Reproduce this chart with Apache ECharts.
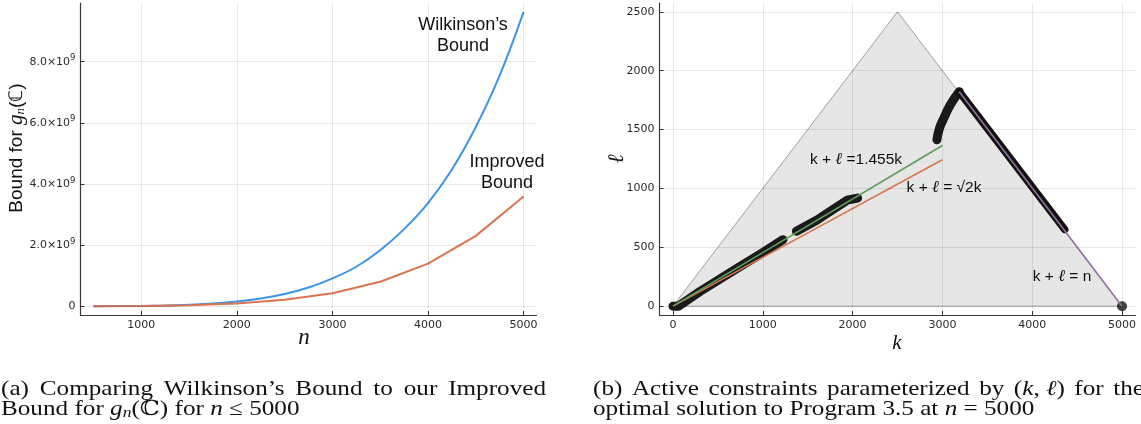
<!DOCTYPE html>
<html><head><meta charset="utf-8">
<script src="https://cdn.jsdelivr.net/npm/echarts@6/dist/echarts.min.js"></script>
<style>html,body{margin:0;padding:0;background:#fff}#c{width:1141px;height:424px}</style>
</head><body><div id="c"></div><script>
// ---------------- data ----------------
// (a) bounds, values in units of 10^9
const nWilk = [500,750,1000,1250,1500,1750,2000,2250,2500,2750,3000,3250,3500,3750,4000,4250,4500,4750,5000];
const wilkinson = [0.0006,0.003,0.009,0.021,0.045,0.085,0.15,0.25,0.40,0.61,0.91,1.29,1.83,2.52,3.37,4.47,5.86,7.55,9.63];
const nImp = [500,1000,1500,2000,2500,3000,3500,4000,4500,5000];
const improved = [0.001,0.006,0.03,0.09,0.21,0.42,0.80,1.39,2.30,3.59];
const xTicksA = [1000,2000,3000,4000,5000];
const yTicksA = [0,2,4,6,8];
// (b) active constraints in (k, l)
const feasibleRegion = [[0,0],[2500,2500],[5000,0],[0,0]];
const activeSeg1 = [[0,0],[60,0],[300,125],[700,315],[1000,455],[1225,565]];
const activeSeg2 = [[1374,636],[1600,730],[1807,834],[1940,900],[2056,918]];
const activeSeg3 = [[2939,1413],[2965,1505],[3012,1590],[3087,1709],[3187,1822]];
const activeSeg4 = [[3187,1822],[4362,652]];
const activePoint = [[5000,0]];
const line1455 = [[0,0],[3000,1365]];
const lineSqrt2 = [[0,0],[3000,1243]];
const lineN = [[3187,1822],[5000,0]];
const xTicksB = [0,1000,2000,3000,4000,5000];
const yTicksB = [0,500,1000,1500,2000,2500];
// captions
const capA1 = ['(a)','Comparing','Wilkinson’s','Bound','to','our','Improved'];
const capA2 = ['Bound','for',[['g','i'],['n','s'],['(ℂ)','r']],'for',[['n','i']],'≤','5000'];
const capB1 = ['(b)','Active','constraints','parameterized','by',[['(','r'],['k','i'],[', ','r'],['ℓ','i'],[')','r']],'for','the'];
const capB2 = ['optimal','solution','to','Program','3.5','at',[['n','i']],'=','5000'];

// ---------------- helpers ----------------
const zip = (a,b) => a.map((v,i)=>[v,b[i]]);
const SERIF = '"Liberation Serif", "DejaVu Serif", serif';
const SANS = '"Liberation Sans", Arial, sans-serif';
const ctx = document.createElement('canvas').getContext('2d');
function fontOf(kind, fs){
  if (kind==='i') return `italic ${fs}px ${SERIF}`;
  if (kind==='s') return `italic ${(fs*0.7).toFixed(2)}px ${SERIF}`;
  return `${fs}px ${SERIF}`;
}
function segs(word){ return typeof word==='string' ? [[word,'r']] : word; }
function wordWidth(word, fs){
  let w=0; for (const [t,k] of segs(word)){ ctx.font=fontOf(k,fs); w+=ctx.measureText(t).width; } return w;
}
function lineWidth(words, fs){
  ctx.font=fontOf('r',fs); const sp=ctx.measureText(' ').width;
  return words.reduce((s,w)=>s+wordWidth(w,fs),0)+sp*(words.length-1);
}
// lays a caption line out word by word; sx stretches glyphs horizontally (Computer Modern is wide)
function layoutLine(words, x0, y, fs, sx, justifyWidth){
  ctx.font=fontOf('r',fs); let sp=ctx.measureText(' ').width*sx;
  const ww = words.map(w=>wordWidth(w,fs)*sx);
  if (justifyWidth) sp = (justifyWidth - ww.reduce((a,b)=>a+b,0))/(words.length-1);
  const els=[]; let x=x0;
  words.forEach((w,i)=>{
    for (const [t,k] of segs(w)){
      ctx.font=fontOf(k,fs);
      els.push({type:'text', x:x, y: y + (k==='s'? fs*0.22:0), scaleX:sx, silent:true,
        style:{text:t, font:fontOf(k,fs), fill:'#111', align:'left', verticalAlign:'middle'}});
      x+=ctx.measureText(t).width*sx;
    }
    x = x0 + ww.slice(0,i+1).reduce((a,b)=>a+b,0) + sp*(i+1);
  });
  return els;
}
const capFs = 21;
const capSx = ((294/lineWidth(capA2,capFs)) + (448/lineWidth(capB2,capFs)))/2;

const gridLine = {color:'rgba(0,0,0,0.09)', width:1, type:'solid'};
const tickFont = {color:'#2b2b2b', fontFamily:'"DejaVu Sans", sans-serif', fontSize:11};
function gridMarks(xs, ys){
  return {silent:true, symbol:'none', animation:false, label:{show:false}, lineStyle:gridLine,
    emphasis:{disabled:true},
    data:[...xs.map(v=>({xAxis:v})), ...ys.map(v=>({yAxis:v}))]};
}
function axisX(grid, min, max, ticks){
  return {type:'value', gridIndex:grid, min, max,
    axisLine:{show:true, onZero:false, lineStyle:{color:'#3a3a3a', width:1.2}},
    axisTick:{show:true, inside:true, length:4, customValues:ticks, lineStyle:{color:'#3a3a3a'}},
    axisLabel:{customValues:ticks, margin:5, formatter:v=>String(v), ...tickFont},
    splitLine:{show:false}};
}
function axisY(grid, min, max, ticks, fmt, rich){
  return {type:'value', gridIndex:grid, min, max,
    axisLine:{show:true, onZero:false, lineStyle:{color:'#3a3a3a', width:1.2}},
    axisTick:{show:true, inside:true, length:4, customValues:ticks, lineStyle:{color:'#3a3a3a'}},
    axisLabel:{customValues:ticks, margin:5, formatter:fmt, ...tickFont, rich},
    splitLine:{show:false}};
}
const supRich = {
  b:{fontFamily:'"DejaVu Sans", sans-serif', fontSize:11, color:'#2b2b2b'},
  p:{fontFamily:'"DejaVu Sans", sans-serif', fontSize:8.5, color:'#2b2b2b', padding:[0,0,7,0]}
};

const ann = (text, x, y, fs) => ({type:'text', x, y, silent:true,
  style:{text, font:`${fs}px ${SANS}`, fill:'#111', align:'center', verticalAlign:'middle'}});
const annRich = (parts, x, y, fs) => ({type:'text', x, y, silent:true,
  style:{text: parts, fill:'#111', align:'center', verticalAlign:'middle',
    font:`${fs}px ${SANS}`,
    rich:{a:{fontFamily:SANS, fontSize:fs, fill:'#111'}, l:{fontFamily:SERIF, fontStyle:'italic', fontSize:fs+1, fill:'#111'}}}});

const chart = echarts.init(document.getElementById('c'), null, {renderer:'canvas'});
chart.setOption({
  animation:false,
  backgroundColor:'#fff',
  grid:[
    {left:80.5, right:604.5, top:3, bottom:109, containLabel:false, outerBoundsMode:'none'},
    {left:659.5, right:5.5, top:3, bottom:109, containLabel:false, outerBoundsMode:'none'}
  ],
  xAxis:[ axisX(0, 365, 5135, xTicksA), axisX(1, -150, 5150, xTicksB) ],
  yAxis:[
    axisY(0, -0.2889, 9.9189, yTicksA, v => v===0 ? '{b|0}' : '{b|'+v.toFixed(1)+'×10}{p|9}', supRich),
    axisY(1, -75, 2575, yTicksB, v => String(v))
  ],
  series:[
    {type:'line', xAxisIndex:0, yAxisIndex:0, data:zip(nWilk,wilkinson), smooth:0.4,
     showSymbol:false, lineStyle:{color:'#3d95e8', width:2}, markLine:gridMarks(xTicksA, yTicksA), z:3},
    {type:'line', xAxisIndex:0, yAxisIndex:0, data:zip(nImp,improved), showSymbol:false,
     lineStyle:{color:'#dc7451', width:2}, z:3},

    {type:'line', xAxisIndex:1, yAxisIndex:1, data:feasibleRegion, showSymbol:false,
     lineStyle:{color:'#8a8a8a', width:0.8}, areaStyle:{color:'rgba(0,0,0,0.14)', origin:0},
     markLine:gridMarks(xTicksB, yTicksB), z:1},
    ...[activeSeg1, activeSeg2].map(d => ({type:'line', xAxisIndex:1, yAxisIndex:1, data:d,
      showSymbol:false, lineStyle:{color:'#1a1a1a', width:9, cap:'round', join:'round'}, z:3})),
    {type:'line', xAxisIndex:1, yAxisIndex:1, data:activeSeg3, smooth:0.5, showSymbol:false,
     lineStyle:{color:'#1a1a1a', width:9, cap:'round', join:'round'}, z:3},
    {type:'line', xAxisIndex:1, yAxisIndex:1, data:activeSeg4, showSymbol:false,
     lineStyle:{color:'#111', width:7.5, cap:'round', join:'round'}, z:3},
    {type:'scatter', xAxisIndex:1, yAxisIndex:1, data:activePoint, symbolSize:10,
     itemStyle:{color:'#111'}, z:3},
    {type:'line', xAxisIndex:1, yAxisIndex:1, data:lineSqrt2, showSymbol:false,
     lineStyle:{color:'#d8764f', width:1.6}, z:4},
    {type:'line', xAxisIndex:1, yAxisIndex:1, data:line1455, showSymbol:false,
     lineStyle:{color:'#5c9f58', width:1.6}, z:4},
    {type:'line', xAxisIndex:1, yAxisIndex:1, data:lineN, showSymbol:false,
     lineStyle:{color:'#9370a6', width:1.6}, z:4}
  ],
  graphic:[
    ann('Wilkinson’s', 463, 25, 18), ann('Bound', 463, 46, 18),
    ann('Improved', 507, 162, 18), ann('Bound', 507, 183, 18),
    annRich('{a|k + }{l|ℓ}{a| =1.455k}', 856, 160, 15.5),
    annRich('{a|k + }{l|ℓ}{a| = √2k}', 944, 188, 15.5),
    annRich('{a|k + }{l|ℓ}{a| = n}', 1062, 277, 15.5),
    {type:'text', x:16.5, y:148, rotation:Math.PI/2, silent:true,
     style:{text:'{t|Bound for }{g|g}{s|n}{t|(ℂ)}', align:'center', verticalAlign:'middle', fill:'#111',
       rich:{t:{fontFamily:SANS, fontSize:19, fill:'#111'},
             g:{fontFamily:SERIF, fontStyle:'italic', fontSize:21, fill:'#111'},
             s:{fontFamily:SERIF, fontStyle:'italic', fontSize:13, fill:'#111', padding:[8,0,0,0]}}}},
    {type:'text', x:617, y:159, rotation:Math.PI/2, silent:true,
     style:{text:'ℓ', font:`italic 22px ${SERIF}`, fill:'#111', align:'center', verticalAlign:'middle'}},
    {type:'text', x:304, y:338, silent:true,
     style:{text:'n', font:`italic 23px ${SERIF}`, fill:'#111', align:'center', verticalAlign:'middle'}},
    {type:'text', x:897, y:343, silent:true,
     style:{text:'k', font:`italic 21px ${SERIF}`, fill:'#111', align:'center', verticalAlign:'middle'}},
    ...layoutLine(capA1, 1, 389, capFs, capSx, 545),
    ...layoutLine(capA2, 1, 409, capFs, capSx, 0),
    ...layoutLine(capB1, 593, 389, capFs, capSx, 551),
    ...layoutLine(capB2, 593, 409, capFs, capSx, 0)
  ]
});
</script></body></html>
